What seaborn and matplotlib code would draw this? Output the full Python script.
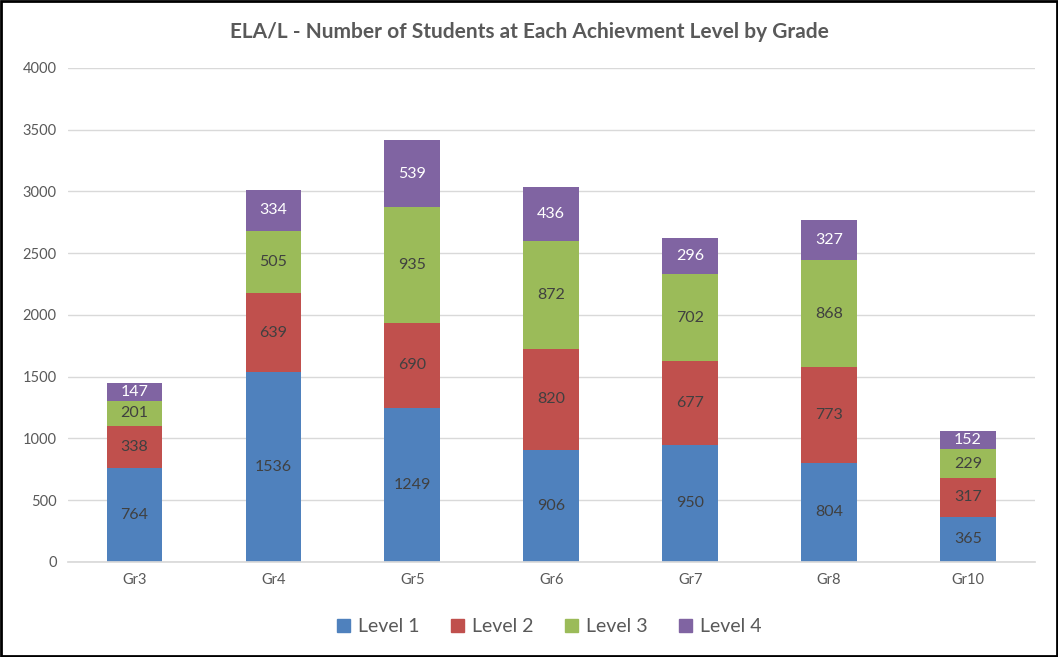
import seaborn as sns
import matplotlib.pyplot as plt
import matplotlib.patches as mpatches
import pandas as pd
import numpy as np

grades = ["Gr3", "Gr4", "Gr5", "Gr6", "Gr7", "Gr8", "Gr10"]
levels = ["Level 1", "Level 2", "Level 3", "Level 4"]
level1 = [764, 1536, 1249, 906, 950, 804, 365]
level2 = [338, 639, 690, 820, 677, 773, 317]
level3 = [201, 505, 935, 872, 702, 868, 229]
level4 = [147, 334, 539, 436, 296, 327, 152]
colors = ["#4F81BD", "#C0504D", "#9BBB59", "#8064A2"]
label_colors = ["#404040", "#404040", "#404040", "white"]

sns.set_theme(style="white")
plt.rcParams["font.family"] = ["Lato", "DejaVu Sans"]

counts = np.array([level1, level2, level3, level4])
tops = counts.cumsum(axis=0)
df = pd.DataFrame({"Grade": grades})
for i, lv in enumerate(levels):
    df[lv] = tops[i]

fig = plt.figure(figsize=(10.58, 6.57), dpi=100)
ax = fig.add_axes([0.064, 0.1446, 0.914, 0.752])

# stacked look: draw cumulative totals from the tallest down
for i in reversed(range(len(levels))):
    sns.barplot(data=df, x="Grade", y=levels[i], color=colors[i], width=0.4,
                saturation=1, ax=ax, zorder=2, linewidth=0)

for i in range(len(levels)):
    for j in range(len(grades)):
        mid = tops[i][j] - counts[i][j] / 2
        ax.text(j, mid, str(counts[i][j]), ha="center", va="center",
                fontsize=11.5, color=label_colors[i], zorder=3)

ax.set_xlim(-0.48, 6.48)
ax.set_ylim(0, 4000)
ax.set_yticks(range(0, 4001, 500))
ax.set_xlabel("")
ax.set_ylabel("")
ax.grid(axis="y", color="#D9D9D9", linewidth=1, zorder=0)
ax.set_axisbelow(True)
for s in ["top", "right", "left"]:
    ax.spines[s].set_visible(False)
ax.spines["bottom"].set_color("#D9D9D9")
ax.tick_params(axis="both", length=0, labelsize=10.5, colors="#595959", pad=8)

fig.text(0.5, 0.951, "ELA/L - Number of Students at Each Achievment Level by Grade",
         ha="center", va="center", fontsize=15, fontweight="bold", color="#595959")

handles = [mpatches.Patch(color=c, label=l) for c, l in zip(colors, levels)]
fig.legend(handles=handles, loc="center", bbox_to_anchor=(0.519, 0.046), ncol=4,
           frameon=False, fontsize=14, handlelength=0.7, handleheight=0.7,
           handletextpad=0.4, columnspacing=1.6, labelcolor="#595959")

fig.patches.append(mpatches.Rectangle((0.001, 0.001), 0.998, 0.998, transform=fig.transFigure,
                                      fill=False, edgecolor="black", linewidth=2))

fig.savefig("out.png", dpi=100)
